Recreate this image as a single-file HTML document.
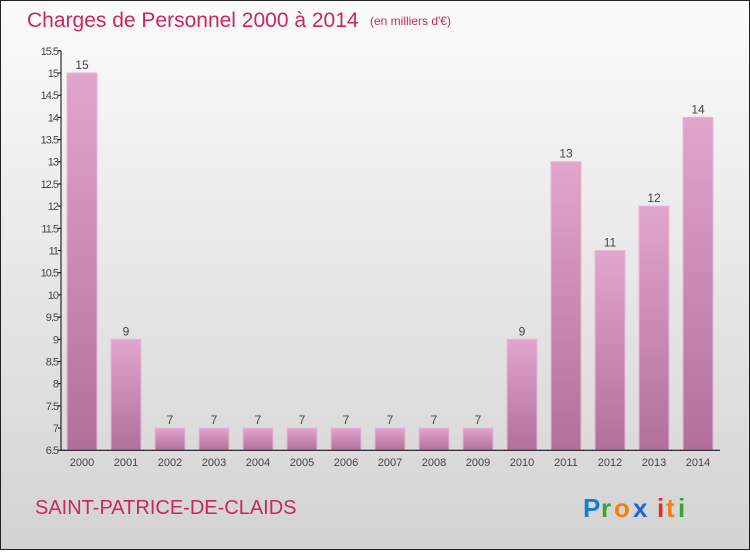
<!DOCTYPE html>
<html><head><meta charset="utf-8"><style>
body{margin:0}
#c{width:750px;height:550px;position:relative;font-family:"Liberation Sans",sans-serif}
</style></head><body>
<div id="c">
<svg width="750" height="550" xmlns="http://www.w3.org/2000/svg">
<defs>
<linearGradient id="bg" x1="0" y1="0" x2="0" y2="1"><stop offset="0" stop-color="#fbfbfb"/><stop offset="1" stop-color="#d3d3d3"/></linearGradient>
<linearGradient id="bar" x1="0" y1="0" x2="0" y2="1"><stop offset="0" stop-color="#e2a5cc"/><stop offset="1" stop-color="#b0709a"/></linearGradient>
</defs>
<rect x="0.5" y="0.5" width="749" height="549" fill="url(#bg)" stroke="#222"/>
<text x="27" y="27" font-size="21" fill="#c8285a">Charges de Personnel 2000 à 2014</text>
<text x="370" y="25" font-size="12" fill="#c8285a">(en milliers d'€)</text>
<g id="yaxis"></g><g id="bars"></g><g id="xaxis"></g>
<text x="35" y="514" font-size="20" fill="#c8285a">SAINT-PATRICE-DE-CLAIDS</text>
<g font-size="26" font-weight="bold" font-family="Liberation Sans, sans-serif">
<text x="583" y="517" fill="#1a7ad4">P</text><text x="601" y="517" fill="#3aa23a">r</text><text x="614" y="517" fill="#f08010">o</text><text x="633" y="517" fill="#1a6ac8">x</text><text x="657" y="517" fill="#e03020">i</text><text x="666" y="517" fill="#f08010">t</text><text x="678" y="517" fill="#3aa23a">i</text>
</g>
</svg>
</div>
<script>
const categories=["2000","2001","2002","2003","2004","2005","2006","2007","2008","2009","2010","2011","2012","2013","2014"];
const values=[15,9,7,7,7,7,7,7,7,7,9,13,11,12,14];
const yTicks=[6.5,7,7.5,8,8.5,9,9.5,10,10.5,11,11.5,12,12.5,13,13.5,14,14.5,15,15.5];
const NS="http://www.w3.org/2000/svg";
const yMin=6.5,yMax=15.5,yTop=50.8,yBot=450.2;
const y=v=>yBot-(v-yMin)/(yMax-yMin)*(yBot-yTop);
const x=i=>82+i*44;
function mk(t,a,p){const e=document.createElementNS(NS,t);for(const k in a)e.setAttribute(k,a[k]);p.appendChild(e);return e;}
const ya=document.getElementById('yaxis'),ba=document.getElementById('bars'),xa=document.getElementById('xaxis');
const ax=mk('line',{x1:61,y1:yTop,x2:61,y2:yBot,stroke:'#000'},ya);


yTicks.forEach(v=>{
 const l=mk('line',{x1:58,x2:61,y1:y(v),y2:y(v),stroke:'#000'},ya);
 
 
 const t=mk('text',{x:58,y:y(v)+4,'text-anchor':'end','font-size':11,fill:'#444','letter-spacing':'-1'},ya);
 t.textContent=String(v);
 
 
});
const xl=mk('line',{x1:61,y1:yBot,x2:720,y2:yBot,stroke:'#000'},xa);


categories.forEach((c,i)=>{
 const v=values[i];
 const r=mk('rect',{x:x(i)-15,y:y(v),width:30,height:yBot-y(v),fill:'url(#bar)',stroke:'#e8b8d6','stroke-width':1},ba);
 
 
 const vt=mk('text',{x:x(i),y:y(v)-4,'text-anchor':'middle','font-size':12,fill:'#444'},ba);
 vt.textContent=String(v);
 
 
 const t=mk('text',{x:x(i),y:466,'text-anchor':'middle','font-size':11,fill:'#444'},xa);
 t.textContent=c;
 
 
});
</script>
</body></html>
